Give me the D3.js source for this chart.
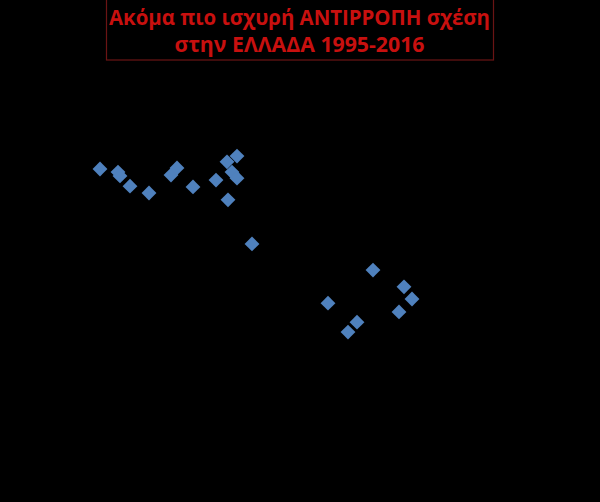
<!DOCTYPE html>
<html>
<head>
<meta charset="utf-8">
<script src="https://cdn.jsdelivr.net/npm/d3@7"></script>
<style>
  html, body { margin: 0; padding: 0; background: #000; }
  svg { display: block; }
</style>
</head>
<body>
<div id="chart"></div>
<script>
// Title lines
var titleLines = ['Ακόμα πιο ισχυρή ΑΝΤΙΡΡΟΠΗ σχέση',
                  'στην ΕΛΛΑΔΑ 1995-2016'];

// Scatter values (axes are hidden)
var xValues = [10, 13.6, 14, 16, 19.8, 24.2, 25.4, 28.6, 33.2, 35.4, 37.4,
               36.4, 37.4, 35.6, 40.4, 64.6, 55.6, 70.8, 72.4, 69.8, 59.6, 61.4];
var yValues = [79.2, 78.4, 77.4, 74.7, 72.9, 77.6, 79.5, 74.5, 76.3, 81.1, 82.6,
               78.4, 76.8, 71.1, 59.5, 52.6, 43.9, 48.2, 45, 41.6, 36.3, 38.9];

var width = 600,
    height = 502,
    // plot area
    plotLeft = 50,
    plotRight = 550,
    plotTop = 90,
    plotBottom = 470,
    pointColor = '#4F81BD',
    // widths the title lines take in the picture
    titleWidths = [381, 250];

var svg = d3.select('#chart').append('svg')
    .attr('width', width)
    .attr('height', height);

svg.append('rect')
    .attr('width', width)
    .attr('height', height)
    .attr('fill', '#000');

var x = d3.scaleLinear().domain([0, 100]).range([plotLeft, plotRight]);
var y = d3.scaleLinear().domain([0, 100]).range([plotBottom, plotTop]);

// Axes are black on black in the original, so they stay invisible
svg.append('g')
    .attr('transform', 'translate(0,' + plotBottom + ')')
    .call(d3.axisBottom(x).ticks(5).tickFormat(''))
    .selectAll('line, path').attr('stroke', '#000');
svg.append('g')
    .attr('transform', 'translate(' + plotLeft + ',0)')
    .call(d3.axisLeft(y).ticks(5).tickFormat(''))
    .selectAll('line, path').attr('stroke', '#000');

// Diamonds: rotated squares
var diamond = d3.symbol().type(d3.symbolSquare).size(110);

svg.append('g').selectAll('path')
    .data(d3.range(xValues.length)).enter()
    .append('path')
    .attr('d', diamond)
    .attr('transform', function(i) {
        return 'translate(' + x(xValues[i]) + ',' + y(yValues[i]) + ') rotate(45)';
    })
    .attr('fill', pointColor);

// Title box
svg.append('rect')
    .attr('x', 106.5)
    .attr('y', -1)
    .attr('width', 387)
    .attr('height', 61)
    .attr('fill', '#000')
    .attr('stroke', '#6b1414')
    .attr('stroke-width', 1.2);

svg.append('g').selectAll('text')
    .data(titleLines).enter()
    .append('text')
    .attr('x', 299.5)
    .attr('y', function(d, i) { return 25 + i * 27; })
    .attr('text-anchor', 'middle')
    .attr('font-family', 'Open Sans, sans-serif')
    .attr('font-weight', 700)
    .attr('font-size', 21)
    .attr('textLength', function(d, i) { return titleWidths[i]; })
    .attr('lengthAdjust', 'spacingAndGlyphs')
    .attr('fill', '#C8100F')
    .text(function(d) { return d; });
</script>
</body>
</html>
